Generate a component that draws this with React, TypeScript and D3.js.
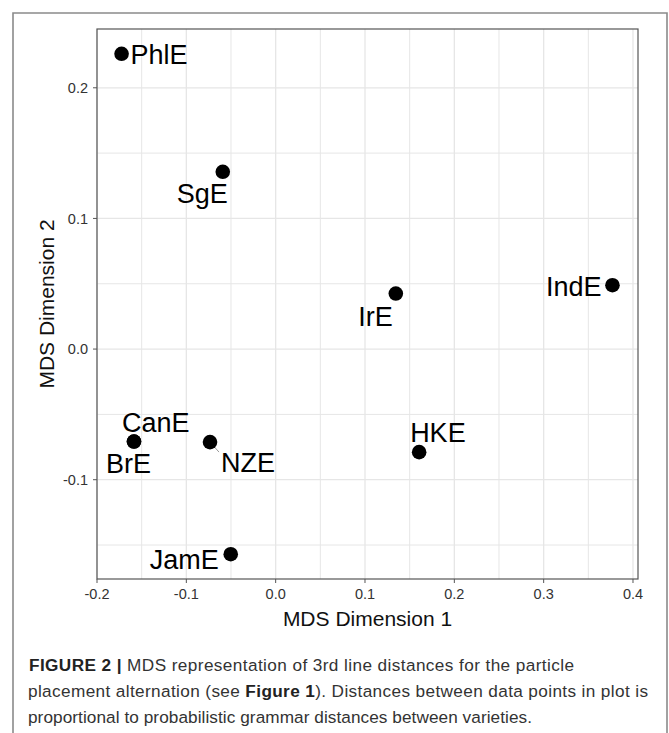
import React from "react";
import * as d3 from "d3";

const varieties = ["PhlE", "SgE", "IrE", "IndE", "HKE", "CanE", "BrE", "NZE", "JamE"];
const dim1 = [-0.1725, -0.0592, 0.1345, 0.377, 0.1606, -0.1586, -0.1586, -0.0735, -0.0503];
const dim2 = [0.226, 0.1357, 0.0425, 0.0489, -0.0789, -0.0708, -0.0708, -0.0712, -0.157];
const xTicks = [-0.2, -0.1, 0.0, 0.1, 0.2, 0.3, 0.4];
const yTicks = [-0.1, 0.0, 0.1, 0.2];
const xMinor = [-0.15, -0.05, 0.05, 0.15, 0.25, 0.35];
const yMinor = [-0.15, -0.05, 0.05, 0.15];

// label placement (layout only): anchor, dx, dy (baseline) in px relative to point
const labelLayout: Record<string, { anchor: string; dx: number; dy: number; seg?: [number, number] }> = {
  PhlE: { anchor: "start", dx: 9, dy: 10 },
  SgE: { anchor: "end", dx: 5, dy: 31 },
  IrE: { anchor: "end", dx: -3, dy: 32 },
  IndE: { anchor: "end", dx: -11, dy: 11 },
  HKE: { anchor: "start", dx: -9, dy: -10 },
  CanE: { anchor: "start", dx: -12, dy: -10, seg: [6, -5] },
  BrE: { anchor: "start", dx: -28, dy: 31 },
  NZE: { anchor: "start", dx: 11, dy: 30, seg: [9, 10] },
  JamE: { anchor: "end", dx: -12, dy: 15 },
};

const W = 669;
const H = 733;
const panel = { left: 97, right: 638, top: 29, bottom: 579 };

export default function App() {
  const x = d3.scaleLinear().domain([-0.2, 0.4056]).range([panel.left, panel.right]);
  const y = d3.scaleLinear().domain([-0.176, 0.245]).range([panel.bottom, panel.top]);
  const font = "'Liberation Sans', Arial, Helvetica, sans-serif";
  const grid = "#e6e6e6";
  const cx = (panel.left + panel.right) / 2;
  const cy = (panel.top + panel.bottom) / 2;
  return (
    <svg width={W} height={H} style={{ position: "absolute", left: 0, top: 0, background: "#fff" }} fontFamily={font}>
      <rect x={0} y={0} width={W} height={H} fill="#fff" />
      {/* outer frame */}
      <path d={`M13,${H + 5} V13 H667 V${H + 5}`} fill="none" stroke="#8a8a8a" strokeWidth={1.6} />
      {/* grid */}
      {xMinor.map((v) => (
        <line key={"xm" + v} x1={x(v)} x2={x(v)} y1={panel.top} y2={panel.bottom} stroke={grid} strokeWidth={1} />
      ))}
      {yMinor.map((v) => (
        <line key={"ym" + v} y1={y(v)} y2={y(v)} x1={panel.left} x2={panel.right} stroke={grid} strokeWidth={1} />
      ))}
      {xTicks.map((v) => (
        <line key={"xg" + v} x1={x(v)} x2={x(v)} y1={panel.top} y2={panel.bottom} stroke={grid} strokeWidth={1.3} />
      ))}
      {yTicks.map((v) => (
        <line key={"yg" + v} y1={y(v)} y2={y(v)} x1={panel.left} x2={panel.right} stroke={grid} strokeWidth={1.3} />
      ))}
      <rect x={panel.left} y={panel.top} width={panel.right - panel.left} height={panel.bottom - panel.top} fill="none" stroke="#555" strokeWidth={1.2} />
      {/* ticks */}
      {xTicks.map((v) => (
        <g key={"xt" + v}>
          <line x1={x(v)} x2={x(v)} y1={panel.bottom} y2={panel.bottom + 4} stroke="#555" strokeWidth={1} />
          <text x={x(v)} y={panel.bottom + 20} textAnchor="middle" fontSize={14.5} fill="#333">
            {d3.format(".1f")(v).replace("−", "-")}
          </text>
        </g>
      ))}
      {yTicks.map((v) => (
        <g key={"yt" + v}>
          <line x1={panel.left - 4} x2={panel.left} y1={y(v)} y2={y(v)} stroke="#555" strokeWidth={1} />
          <text x={panel.left - 9} y={y(v)} dy="0.35em" textAnchor="end" fontSize={14.5} fill="#333">
            {d3.format(".1f")(v).replace("−", "-")}
          </text>
        </g>
      ))}
      {/* axis titles */}
      <text x={cx} y={panel.bottom + 47} textAnchor="middle" fontSize={21} fill="#111">
        MDS Dimension 1
      </text>
      <text transform={`translate(54,${cy}) rotate(-90)`} textAnchor="middle" fontSize={21} fill="#111">
        MDS Dimension 2
      </text>
      {/* segments */}
      {varieties.map((name, i) => {
        const L = labelLayout[name];
        if (!L.seg) return null;
        const px = x(dim1[i]);
        const py = y(dim2[i]);
        return <line key={"s" + name} x1={px} y1={py} x2={px + L.seg[0]} y2={py + L.seg[1]} stroke="#999" strokeWidth={1} />;
      })}
      {/* points */}
      {varieties.map((name, i) => (
        <circle key={"p" + name} cx={x(dim1[i])} cy={y(dim2[i])} r={7.3} fill="#000" />
      ))}
      {/* labels */}
      {varieties.map((name, i) => {
        const L = labelLayout[name];
        return (
          <text key={"l" + name} x={x(dim1[i]) + L.dx} y={y(dim2[i]) + L.dy} textAnchor={L.anchor} fontSize={27} fill="#000">
            {name}
          </text>
        );
      })}
      {/* caption */}
      <g fontSize={17.2} fill="#333">
        <text x={29} y={671} textLength={545} lengthAdjust="spacing">
          <tspan fontWeight="bold" fill="#222">FIGURE 2 | </tspan>
          <tspan>MDS representation of 3rd line distances for the particle</tspan>
        </text>
        <text x={28} y={697} textLength={620} lengthAdjust="spacing">
          <tspan>placement alternation (see </tspan>
          <tspan fontWeight="bold" fill="#222">Figure 1</tspan>
          <tspan>). Distances between data points in plot is</tspan>
        </text>
        <text x={28} y={723} textLength={504} lengthAdjust="spacing">
          proportional to probabilistic grammar distances between varieties.
        </text>
      </g>
    </svg>
  );
}
